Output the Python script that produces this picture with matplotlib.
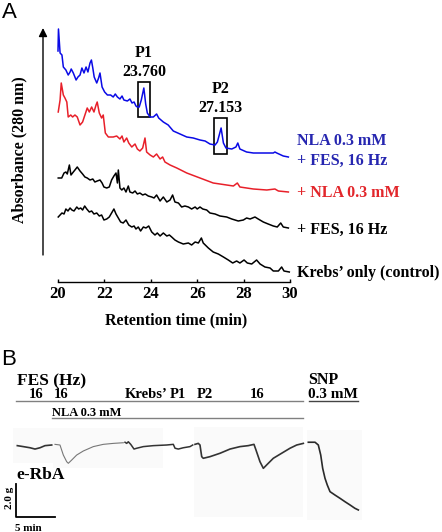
import matplotlib
matplotlib.use('Agg')
import matplotlib.pyplot as plt
from matplotlib.patches import Rectangle

plt.rcParams['font.family'] = ['Liberation Serif', 'DejaVu Serif']
plt.rcParams['font.weight'] = 'bold'

# ---------- panel A : chromatograms (retention time, min / absorbance, a.u.) ----------
t_nla_fes = [20.00, 20.02, 20.09, 20.17, 20.23, 20.34, 20.44, 20.52, 20.57, 20.66, 20.78, 20.86,
             20.95, 21.03, 21.12, 21.21, 21.29, 21.38, 21.44, 21.50, 21.56, 21.67, 21.75, 21.81,
             21.90, 22.01, 22.13, 22.27, 22.38, 22.47, 22.56, 22.67, 22.76, 22.84, 22.99, 23.10,
             23.19, 23.28, 23.36, 23.42, 23.50, 23.59, 23.70, 23.78, 23.85, 23.97, 24.11, 24.25,
             24.34, 24.54, 24.75, 24.97, 25.26, 25.55, 25.83, 26.12, 26.34, 26.55, 26.77, 26.87,
             27.03, 27.13, 27.24, 27.49, 27.67, 27.75, 27.84, 28.13, 28.42, 28.71, 29.00, 29.28,
             29.35, 29.43, 29.71, 29.93]
a_nla_fes = [231, 253, 229, 227, 215, 212, 207, 210, 213, 209, 202, 205,
             207, 214, 209, 215, 210, 219, 222, 214, 205, 199, 204, 209,
             195, 190, 187, 187, 185, 188, 185, 183, 186, 182, 181, 183,
             179, 180, 176, 175, 175, 182, 194, 178, 169, 165, 165, 168,
             164, 160, 157, 151, 148, 145, 144, 142, 141, 138, 137, 140,
             154, 139, 134, 133, 135, 139, 133, 130, 129, 129, 129, 129,
             130, 129, 126, 125]

t_nla = [20.01, 20.09, 20.14, 20.23, 20.30, 20.38, 20.44, 20.55, 20.63, 20.73, 20.83, 20.95,
         21.06, 21.16, 21.26, 21.35, 21.45, 21.55, 21.64, 21.69, 21.78, 21.88, 21.95, 22.04,
         22.17, 22.38, 22.53, 22.67, 22.76, 22.84, 22.96, 23.05, 23.18, 23.32, 23.42, 23.53,
         23.65, 23.75, 23.82, 23.97, 24.11, 24.25, 24.40, 24.51, 24.61, 24.83, 25.12, 25.55,
         26.12, 26.69, 27.27, 27.56, 27.73, 27.84, 28.42, 29.00, 29.35, 29.50, 29.93]
a_nla = [170, 182, 199, 187, 184, 180, 165, 167, 165, 167, 165, 157,
         160, 167, 174, 170, 175, 170, 177, 180, 169, 164, 167, 149,
         145, 145, 146, 143, 146, 140, 144, 139, 135, 138, 133, 131,
         134, 144, 130, 127, 125, 128, 123, 125, 120, 117, 114, 109,
         104, 99, 97, 96, 99, 95, 93, 92, 93, 91, 90]

t_fes = [20.01, 20.16, 20.26, 20.34, 20.40, 20.49, 20.56, 20.66, 20.73, 20.83, 20.95, 21.06,
         21.16, 21.26, 21.38, 21.50, 21.59, 21.69, 21.81, 21.90, 21.98, 22.10, 22.21, 22.31,
         22.41, 22.50, 22.56, 22.60, 22.67, 22.75, 22.84, 22.93, 23.03, 23.10, 23.22, 23.32,
         23.42, 23.53, 23.65, 23.76, 23.89, 24.04, 24.14, 24.25, 24.40, 24.54, 24.69, 24.83,
         24.94, 25.04, 25.19, 25.33, 25.47, 25.62, 25.76, 25.91, 26.00, 26.12, 26.24, 26.41,
         26.55, 26.77, 26.98, 27.27, 27.49, 27.77, 27.99, 28.13, 28.28, 28.49, 28.63, 28.85,
         29.06, 29.28, 29.45, 29.60, 29.71, 29.93]
a_fes = [104, 104, 109, 110, 108, 117, 107, 110, 112, 115, 111, 108,
         105, 104, 102, 103, 100, 101, 102, 99, 95, 94, 95, 102,
         106, 109, 99, 112, 94, 92, 94, 90, 96, 90, 89, 91,
         88, 89, 87, 88, 86, 85, 84, 87, 81, 85, 80, 82,
         87, 80, 79, 75, 76, 75, 73, 75, 73, 75, 73, 72,
         69, 68, 66, 65, 63, 61, 62, 64, 63, 65, 63, 60,
         58, 56, 55, 59, 55, 54]

t_krebs = [20.01, 20.09, 20.17, 20.26, 20.34, 20.43, 20.52, 20.60, 20.69, 20.81, 20.89, 20.98,
           21.06, 21.15, 21.24, 21.35, 21.45, 21.55, 21.67, 21.78, 21.88, 21.98, 22.10, 22.21,
           22.31, 22.41, 22.50, 22.60, 22.70, 22.81, 22.93, 23.05, 23.18, 23.28, 23.36, 23.46,
           23.56, 23.68, 23.79, 23.91, 24.04, 24.18, 24.28, 24.40, 24.54, 24.69, 24.80, 24.90,
           25.04, 25.19, 25.40, 25.62, 25.76, 25.91, 26.05, 26.18, 26.26, 26.48, 26.69, 26.91,
           27.13, 27.34, 27.53, 27.70, 27.84, 28.02, 28.16, 28.35, 28.56, 28.71, 28.92, 29.14,
           29.28, 29.50, 29.64, 29.74, 29.97]
a_krebs = [65, 67, 69, 68, 73, 71, 74, 72, 71, 75, 73, 74,
           72, 76, 73, 70, 71, 68, 69, 66, 67, 62, 63, 65,
           69, 73, 68, 64, 60, 59, 62, 57, 55, 56, 53, 55,
           51, 55, 54, 56, 50, 47, 49, 46, 49, 46, 47, 45,
           42, 40, 38, 39, 37, 40, 39, 44, 39, 34, 30, 28,
           25, 22, 19, 21, 19, 22, 19, 18, 22, 18, 15, 14,
           11, 11, 15, 11, 10]

trace_labels = [['NLA 0.3 mM', '+ FES, 16 Hz'], ['+ NLA 0.3 mM'], ['+ FES, 16 Hz'],
                ['Krebs\u2019 only (control)']]

peak_names = ['P1', 'P2']
peak_texts = ['23.760', '27.153']
box_t = [(23.44, 23.98), (26.74, 27.30)]
box_a = [(164.7, 199.7), (128.0, 163.7)]

# ---------- panel B : e-RbA tension (time, min / force, g) ----------
seg_t = [[0.04, 0.81, 1.67, 2.31, 2.95, 3.59, 4.45],
         [4.87, 5.51, 5.94, 6.37, 6.58, 7.01, 7.65, 8.50, 9.78, 11.06, 12.35, 13.63],
         [13.85, 14.06, 14.27, 14.58, 15.00, 15.35, 16.19, 17.47, 19.19, 20.04, 20.26, 20.68,
          21.32, 22.18, 22.53],
         [22.82, 23.24, 23.46, 23.68, 23.88, 24.74, 26.03, 27.31, 28.59, 29.65, 30.38, 30.64,
          31.15, 31.58, 32.01, 32.86, 33.72, 35.00, 35.86, 36.71],
         [37.35, 38.21, 38.63, 38.94, 39.19, 39.49, 39.78, 40.13, 40.77, 41.41, 42.05, 42.69,
          43.33, 43.76]]
seg_f = [[-0.04, -0.10, -0.17, -0.25, -0.17, -0.04, 0.00],
         [0.04, 0.00, -0.62, -1.03, -1.13, -0.93, -0.62, -0.37, -0.10, 0.04, 0.10, 0.14],
         [0.17, 0.10, 0.20, 0.04, -0.25, -0.20, -0.10, -0.04, 0.00, 0.04, -0.20, -0.25,
          -0.17, -0.10, 0.00],
         [0.04, 0.10, 0.00, -0.72, -0.82, -0.72, -0.51, -0.25, -0.10, -0.04, 0.04, -0.31,
          -1.03, -1.44, -1.23, -0.82, -0.57, -0.20, 0.00, 0.10],
         [0.17, 0.17, 0.00, -0.62, -1.44, -2.06, -2.47, -2.88, -3.09, -3.29, -3.50, -3.70,
          -3.91, -4.01]]
seg_col = ['#333333', '#777777', '#333333', '#333333', '#2a2a2a']
seg_lw = [1.2, 0.8, 1.1, 1.2, 1.2]

stim_labels = ['16', '16', 'Krebs\u2019', 'P1', 'P2', '16']
stim_x = [28.3, 53.3, 125, 170, 196.7, 250]   # pixel left edges

W, H = 442, 532
fig = plt.figure(figsize=(W / 100, H / 100), dpi=100)

# overlay in pixel coordinates for labels / layout
ov = fig.add_axes([0, 0, 1, 1])
ov.set_xlim(0, W)
ov.set_ylim(H, 0)
ov.axis('off')

# ---------------- panel A ----------------
ax = fig.add_axes([40 / W, 1 - 282 / H, 260 / W, 262 / H])
ax.set_facecolor('none')
ax.set_xlim(20 - 18 / 23.2, 20 + 242 / 23.2)
ax.set_ylim(0, 262)

ax.plot(t_nla_fes, a_nla_fes, color='#0a0ae6', lw=1.1)
ax.plot(t_nla, a_nla, color='#e8202a', lw=1.1)
ax.plot(t_fes, a_fes, color='black', lw=1.1)
ax.plot(t_krebs, a_krebs, color='black', lw=1.1)

for name, txt, (t0, t1), (a0, a1) in zip(peak_names, peak_texts, box_t, box_a):
    ax.add_patch(Rectangle((t0, a0), t1 - t0, a1 - a0, fill=False, ec='black', lw=1.2))
    tc = (t0 + t1) / 2
    ax.text(tc, a1 + 6.3, txt, ha='center', va='baseline', fontsize=11.5)
    ax.text(tc, a1 + 25.6, name, ha='center', va='baseline', fontsize=11.5)

for s in ['top', 'right', 'left']:
    ax.spines[s].set_visible(False)
ax.spines['bottom'].set_bounds(20, 30)
ax.spines['bottom'].set_linewidth(1.0)
ax.set_xticks(range(20, 31, 2))
ax.set_yticks([])
ax.tick_params(axis='x', direction='in', length=2.5, width=1.0, pad=3, labelsize=12)
for lab in ax.get_xticklabels():
    lab.set_fontweight('bold')

ax.annotate('', xy=(20 - 15 / 23.2, 254), xytext=(20 - 15 / 23.2, 27),
            arrowprops=dict(arrowstyle='-|>,head_length=0.5,head_width=0.25', color='black',
                            lw=1.0, shrinkA=0, shrinkB=0, mutation_scale=10),
            annotation_clip=False)

ov.text(176, 324, 'Retention time (min)', ha='center', va='baseline', fontsize=11.5)
ov.text(19, 150, 'Absorbance (280 nm)', ha='center', va='center', rotation=90, fontsize=11.5)

label_cols = ['#2626b0', '#e2262b', 'black', 'black']
label_base = [[145, 165], [197], [234], [276.7]]
for lines, col, ys in zip(trace_labels, label_cols, label_base):
    for txt, y in zip(lines, ys):
        ov.text(297, y, txt, ha='left', va='baseline', fontsize=11.5, color=col)

ov.text(2, 18.5, 'A', family='Liberation Sans', fontweight='normal', fontsize=16, va='baseline')
ov.text(1, 365, 'B', family='Liberation Sans', fontweight='normal', fontsize=16, va='baseline')

# ---------------- panel B ----------------
# faint scanned-paper backgrounds behind the trace pieces
for (x0, y0, x1, y1) in [(13, 428, 53, 463), (53, 428, 163, 468), (194, 427, 303, 517),
                         (307, 430, 362, 520)]:
    ov.add_patch(Rectangle((x0, y0), x1 - x0, y1 - y0, color='#fafafa', lw=0, zorder=0))

ov.text(17.3, 385, 'FES (Hz)', va='baseline', fontsize=12.5)
for lab, x in zip(stim_labels, stim_x):
    ov.text(x, 398.3, lab, va='baseline', fontsize=10.5)
ov.text(308.3, 384, 'SNP', va='baseline', fontsize=11.5)
ov.text(308.3, 398.3, '0.3 mM', va='baseline', fontsize=11)
ov.plot([16, 303], [401, 401], color='#808080', lw=1.0)
ov.plot([309, 358], [401, 401], color='#444444', lw=1.0)
ov.text(51.7, 416.5, 'NLA 0.3 mM', va='baseline', fontsize=9)
ov.plot([52, 303], [417.7, 417.7], color='#808080', lw=1.0)
ov.text(16, 479, 'e-RbA', va='baseline', fontsize=12.5)
ov.text(9.5, 498, '2.0 g', ha='center', va='center', rotation=90, fontsize=8)
ov.text(28.5, 531, '5 min', ha='center', va='baseline', fontsize=8)

axb = fig.add_axes([0, 0, 1, 112 / H])
axb.set_xlim(-17 / 7.8, 425 / 7.8)
axb.set_ylim(-87 / 16.2, 25 / 16.2)
axb.axis('off')
for tt, ff, c, w in zip(seg_t, seg_f, seg_col, seg_lw):
    axb.plot(tt, ff, color=c, lw=w)

# scale bar: 5 min x 2.0 g
sb_t, sb_f = -0.17, -4.43
axb.plot([sb_t, sb_t, sb_t + 5.0], [sb_f + 2.0, sb_f, sb_f], color='black', lw=1.3)

fig.savefig('out.png', dpi=100)
